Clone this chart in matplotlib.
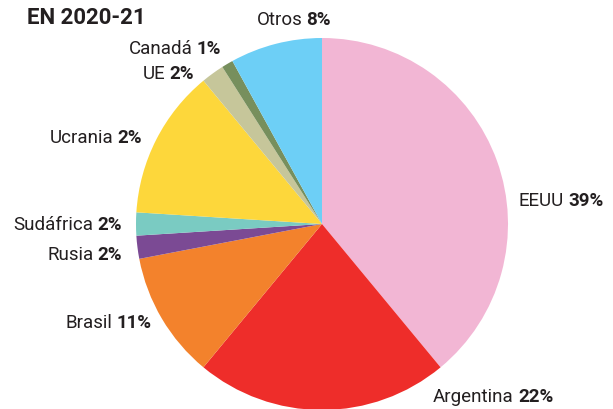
import matplotlib
matplotlib.use("Agg")
import matplotlib.pyplot as plt
from matplotlib.offsetbox import AnnotationBbox, HPacker, TextArea

# slices clockwise from 12 o'clock
countries = ["EEUU", "Argentina", "Brasil", "Rusia", "Sudáfrica",
             "Ucrania", "UE", "Canadá", "Otros"]
shares = [39, 22, 11, 2, 2, 13, 2, 1, 8]
pct_labels = ["39%", "22%", "11%", "2%", "2%", "2%", "2%", "1%", "8%"]
colors = ["#F2B6D4", "#EE2D2A", "#F3822C", "#7B4A94", "#7ACBC2",
          "#FDD73B", "#C6C69A", "#778F5D", "#6DCFF6"]

# label anchor (x, y in pixels from top-left) and alignment
label_pos = {
    "EEUU": (519, 201, "left"),
    "Argentina": (433, 397, "left"),
    "Brasil": (152, 323, "right"),
    "Rusia": (122, 255, "right"),
    "Sudáfrica": (122, 225, "right"),
    "Ucrania": (142, 138, "right"),
    "UE": (194, 74, "right"),
    "Canadá": (221, 49, "right"),
    "Otros": (331, 20, "right"),
}

W, H = 613, 409
TEXT = "#231F20"
FONT = ["Roboto", "DejaVu Sans"]
SIZE = 13.5

fig = plt.figure(figsize=(W / 100, H / 100), dpi=100)
ax = fig.add_axes([0, 0, 1, 1])
ax.pie(shares, colors=colors, startangle=90, counterclock=False,
       center=(322, H - 224), radius=186,
       wedgeprops=dict(linewidth=0))
ax.set_xlim(0, W)
ax.set_ylim(0, H)
ax.set_aspect("equal")
ax.axis("off")

for name, pct in zip(countries, pct_labels):
    x, y, side = label_pos[name]
    box = HPacker(children=[
        TextArea(name, textprops=dict(fontsize=SIZE, color=TEXT, family=FONT)),
        TextArea(pct, textprops=dict(fontsize=SIZE, color=TEXT, family=FONT,
                                     fontweight="bold")),
    ], pad=0, sep=3, align="baseline")
    ab = AnnotationBbox(box, (x, H - y), xycoords="data", frameon=False,
                        box_alignment=(1.0 if side == "right" else 0.0, 0.5),
                        pad=0)
    ax.add_artist(ab)

fig.text(27 / W, 1 - 18 / H, "EN 2020-21", fontsize=16, fontweight="bold",
         color=TEXT, family=FONT, va="center", ha="left")

fig.savefig("out.png", dpi=100)
